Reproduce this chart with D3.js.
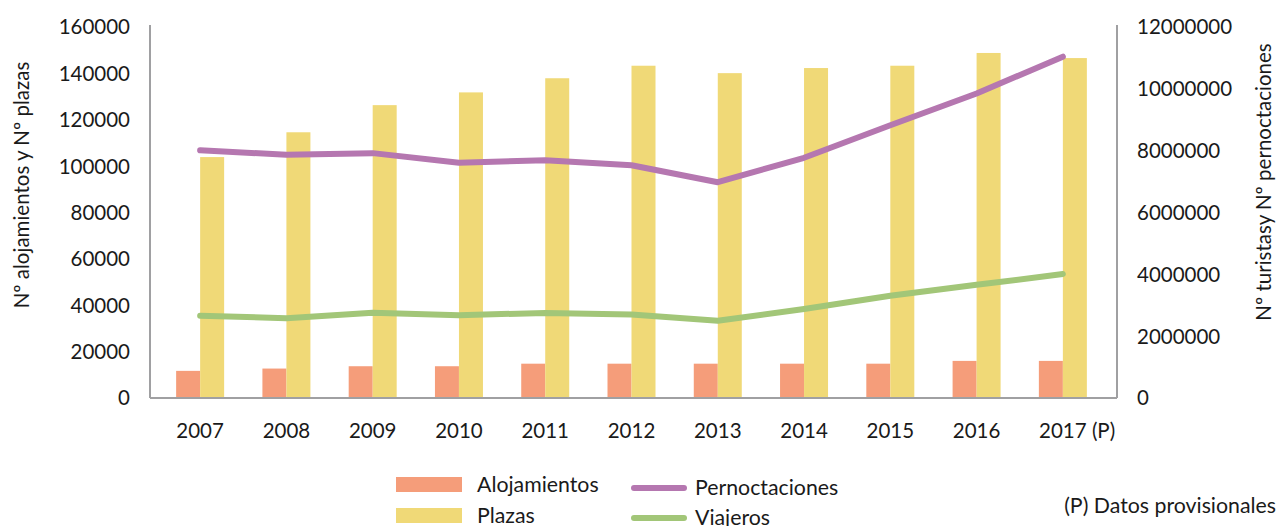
<!DOCTYPE html>
<html>
<head>
<meta charset="utf-8">
<script src="https://cdnjs.cloudflare.com/ajax/libs/d3/7.8.5/d3.min.js"></script>
<style>
  body { margin: 0; background: #fff; }
  text { font-family: Lato, "Noto Sans", sans-serif; fill: #1a1a1a; }
</style>
</head>
<body>
<div id="chart"></div>
<script>
// ============ Data =====================
var years = ["2007", "2008", "2009", "2010", "2011", "2012", "2013", "2014", "2015", "2016", "2017 (P)"];
var alojamientos = [11700, 12700, 13700, 13700, 14800, 14800, 14800, 14800, 14800, 16000, 16000];
var plazas = [103900, 114600, 126300, 131800, 137900, 143300, 140100, 142300, 143300, 148800, 146600];
var pernoctaciones = [8010000, 7870000, 7920000, 7610000, 7690000, 7530000, 6980000, 7770000, 8820000, 9850000, 11040000];
var viajeros = [2660000, 2580000, 2760000, 2680000, 2750000, 2700000, 2500000, 2880000, 3310000, 3660000, 4010000];
var leftTicks = [0, 20000, 40000, 60000, 80000, 100000, 120000, 140000, 160000];
var rightTicks = [0, 2000000, 4000000, 6000000, 8000000, 10000000, 12000000];

//============ Set up chart =====================
var svgWidth = 1276;
var svgHeight = 526;

var plot = { left: 150, right: 1117, top: 27, bottom: 398 };

var svg = d3.select("#chart")
  .append("svg")
  .attr("width", svgWidth)
  .attr("height", svgHeight);

var colors = {
  aloj: "#f59d7a",
  plazas: "#f0d977",
  pern: "#b577b0",
  viaj: "#a2c678",
  axis: "#a0a0a2"
};

// scales
var xScale = d3.scaleBand()
  .domain(years)
  .range([157, 1106]);

var yLeft = d3.scaleLinear()
  .domain([0, 160000])
  .range([plot.bottom, plot.top]);

var yRight = d3.scaleLinear()
  .domain([0, 12000000])
  .range([plot.bottom, plot.top]);

var barW = 24;
var cx = function(i) { return xScale(years[i]) + xScale.bandwidth() / 2; };

// bars
svg.append("g").selectAll("rect")
  .data(alojamientos)
  .enter()
  .append("rect")
  .attr("x", (d, i) => cx(i) - barW)
  .attr("y", d => yLeft(d))
  .attr("width", barW)
  .attr("height", d => plot.bottom - yLeft(d))
  .attr("fill", colors.aloj);

svg.append("g").selectAll("rect")
  .data(plazas)
  .enter()
  .append("rect")
  .attr("x", (d, i) => cx(i))
  .attr("y", d => yLeft(d))
  .attr("width", barW)
  .attr("height", d => plot.bottom - yLeft(d))
  .attr("fill", colors.plazas);

// axes lines
var axisG = svg.append("g")
  .attr("stroke", colors.axis)
  .attr("stroke-width", 2);
axisG.append("line").attr("x1", plot.left).attr("x2", plot.left).attr("y1", plot.top - 2).attr("y2", plot.bottom);
axisG.append("line").attr("x1", plot.right).attr("x2", plot.right).attr("y1", plot.top - 2).attr("y2", plot.bottom);
axisG.append("line").attr("x1", plot.left).attr("x2", plot.right).attr("y1", plot.bottom).attr("y2", plot.bottom);

// lines
var lineFn = function(scale) {
  return d3.line()
    .x((d, i) => cx(i))
    .y(d => scale(d));
};

svg.append("path")
  .datum(viajeros)
  .attr("d", lineFn(yRight))
  .attr("fill", "none")
  .attr("stroke", colors.viaj)
  .attr("stroke-width", 6)
  .attr("stroke-linecap", "round")
  .attr("stroke-linejoin", "round");

svg.append("path")
  .datum(pernoctaciones)
  .attr("d", lineFn(yRight))
  .attr("fill", "none")
  .attr("stroke", colors.pern)
  .attr("stroke-width", 6)
  .attr("stroke-linecap", "round")
  .attr("stroke-linejoin", "round");

// tick labels
svg.append("g").selectAll("text")
  .data(leftTicks)
  .enter()
  .append("text")
  .attr("x", 130)
  .attr("y", d => yLeft(d))
  .attr("dy", "0.36em")
  .attr("text-anchor", "end")
  .style("font-size", "20.5px")
  .text(d => d);

svg.append("g").selectAll("text")
  .data(rightTicks)
  .enter()
  .append("text")
  .attr("x", 1137)
  .attr("y", d => yRight(d))
  .attr("dy", "0.36em")
  .attr("text-anchor", "start")
  .style("font-size", "20.5px")
  .text(d => d);

// category labels: the year digits sit centred on the group
var xLabels = svg.append("g").selectAll("text")
  .data(years)
  .enter()
  .append("text")
  .attr("y", 438)
  .style("font-size", "20.5px")
  .text(d => d);

xLabels.each(function(d, i) {
  var node = this;
  var yearW = node.getSubStringLength(0, 4);
  d3.select(node).attr("x", cx(i) - yearW / 2);
});

// axis titles
svg.append("text")
  .attr("transform", "translate(29, 185) rotate(-90)")
  .attr("text-anchor", "middle")
  .style("font-size", "20.5px")
  .text("Nº alojamientos y Nº plazas");

svg.append("text")
  .attr("transform", "translate(1271, 182) rotate(-90)")
  .attr("text-anchor", "middle")
  .style("font-size", "20.5px")
  .text("Nº turistasy Nº pernoctaciones");

// legend
var legend = svg.append("g");
var barLegend = [["Alojamientos", colors.aloj, 492], ["Plazas", colors.plazas, 523]];
barLegend.forEach(function(b) {
  legend.append("rect")
    .attr("x", 396).attr("y", b[2] - 15)
    .attr("width", 66).attr("height", 15)
    .attr("fill", b[1]);
  legend.append("text")
    .attr("x", 477).attr("y", b[2])
    .style("font-size", "21.3px")
    .text(b[0]);
});

var lineLegend = [["Pernoctaciones", colors.pern, 488], ["Viajeros", colors.viaj, 518]];
lineLegend.forEach(function(l) {
  legend.append("line")
    .attr("x1", 634).attr("x2", 684)
    .attr("y1", l[2]).attr("y2", l[2])
    .attr("stroke", l[1])
    .attr("stroke-width", 6)
    .attr("stroke-linecap", "round");
  legend.append("text")
    .attr("x", 695).attr("y", l[2] + 7)
    .style("font-size", "21.3px")
    .text(l[0]);
});

svg.append("text")
  .attr("x", 1276)
  .attr("y", 513)
  .attr("text-anchor", "end")
  .style("font-size", "21.3px")
  .text("(P) Datos provisionales");
</script>
</body>
</html>
